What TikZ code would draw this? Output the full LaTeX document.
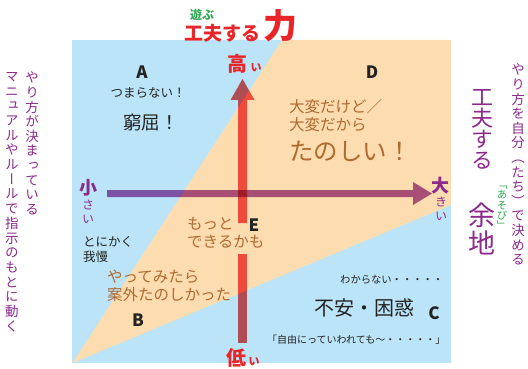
\documentclass[tikz,border=0pt]{standalone}
\usepackage{fontspec}
\newfontfamily\jp{Noto Sans CJK JP}
\newfontfamily\jpv[RawFeature=+vert]{Noto Sans CJK JP}
\definecolor{bgblue}{RGB}{187,228,248}
\definecolor{bgorange}{RGB}{253,221,176}
\definecolor{dark}{RGB}{35,35,35}
\definecolor{brown}{RGB}{175,106,50}
\definecolor{tred}{RGB}{232,38,42}
\definecolor{tpurple}{RGB}{140,42,140}
\definecolor{tgreen}{RGB}{50,170,85}
\definecolor{axred}{RGB}{240,87,87}
\definecolor{axpurple}{RGB}{170,92,170}
\newcommand\fs[1]{\fontsize{#1}{#1}\selectfont}
\ExplSyntaxOn
\NewDocumentCommand\vtxt{mm}{
  \vbox{
    \baselineskip=#1 \lineskiplimit=-\maxdimen
    \tl_map_inline:nn {#2} { \hbox_to_wd:nn {1em} { \hfil ##1 \hfil } }
  }
}
\ExplSyntaxOff
\tikzset{
  lbl/.style={inner sep=0pt, font=\jp},
  vt/.style={inner sep=0pt, anchor=north},
  letter/.style={inner sep=0pt, text=dark, font=\jp\bfseries\fs{17}},
}
\begin{document}
\begin{tikzpicture}[x=1pt,y=-1pt]
\useasboundingbox (0,0) rectangle (528,369);
% background regions
\fill[bgblue] (72,40) rectangle (451,363);
\fill[bgorange] (72.5,363) -- (282,40) -- (451,40) -- (451,205) -- cycle;

% axes
\coordinate (vtop) at (242.5,79);
\coordinate (hend) at (432,193.5);
\begin{scope}[blend mode=multiply]
  \fill[axred] (238,223) -- (238,100) -- (230.5,100) -- (vtop) -- (254.5,100) -- (247,100) -- (247,223) -- cycle;
  \fill[axred] (238,254) rectangle (247,343);
  \fill[axpurple] (107,190) -- (413,190) -- (413,182) -- (hend) -- (413,205) -- (413,197) -- (107,197) -- cycle;
\end{scope}

% title
\node[lbl,text=tgreen,font=\jp\bfseries\fs{12}] (asobu) at (202,15) {遊ぶ};
\node[lbl,text=tred,font=\jp\bfseries\fs{19},anchor=west] (kufuu) at (184,33) {工夫する};
\node[lbl,text=tred,font=\jp\bfseries\fs{34}] (chikara) at (280,26) {力};

% axis labels
\node[lbl,text=tred,font=\jp\bfseries\fs{20}] (taka) at (237,64) {高};
\node[lbl,text=tred,font=\jp\bfseries\fs{11}] (takai) at (256,68) {い};
\node[lbl,text=tred,font=\jp\bfseries\fs{20}] (hiku) at (236,358) {低};
\node[lbl,text=tred,font=\jp\bfseries\fs{11}] (hikui) at (254,362) {い};
\node[lbl,text=tpurple,font=\jp\bfseries\fs{18}] (sho) at (88,188) {小};
\node[vt,text=tpurple,font=\jpv\fs{12}] (shosai) at (88,200) {\vtxt{14pt}{さい}};
\node[lbl,text=tpurple,font=\jp\bfseries\fs{18}] (dai) at (440,186) {大};
\node[vt,text=tpurple,font=\jpv\fs{12}] (daikii) at (441,197) {\vtxt{14pt}{きい}};

% quadrant A
\node[letter] (A) at (142,72) {A};
\node[lbl,text=dark,font=\jp\fs{12.5}] (tsumaranai) at (148,93) {つまらない！};
\node[lbl,text=dark,font=\jp\fs{18.5}] (kyukutsu) at (151,122) {窮屈！};
% quadrant D
\node[letter] (D) at (372,72) {D};
\node[lbl,text=brown,font=\jp\fs{15.5},anchor=west] (taihen1) at (289,107) {大変だけど／};
\node[lbl,text=brown,font=\jp\fs{15.5},anchor=west] (taihen2) at (289,125) {大変だから};
\node[lbl,text=brown,font=\jp\fs{24.5},anchor=west] (tanoshii) at (289,151) {たのしい！};
% E
\node[lbl,text=brown,font=\jp\fs{15.5},anchor=west] (motto) at (187,224) {もっと};
\node[lbl,text=brown,font=\jp\fs{15.5},anchor=west] (dekiru) at (187,242) {できるかも};
\node[letter] (E) at (254,225) {E};
% B
\node[lbl,text=dark,font=\jp\fs{12.5},anchor=west] (tonikaku) at (83,242) {とにかく};
\node[lbl,text=dark,font=\jp\fs{12.5},anchor=west] (gaman) at (83,257) {我慢};
\node[lbl,text=brown,font=\jp\fs{15.5},anchor=west] (yatte) at (107,277) {やってみたら};
\node[lbl,text=brown,font=\jp\fs{15.5},anchor=west] (angai) at (107,295) {案外たのしかった};
\node[letter] (B) at (138,320) {B};
% C
\node[lbl,text=dark,font=\jp\fs{10.3},anchor=west] (wakaranai) at (340,280) {わからない・・・・・};
\node[lbl,text=dark,font=\jp\fs{20},anchor=west] (fuan) at (314,308) {不安・困惑};
\node[letter] (C) at (434,313) {C};
\node[lbl,text=dark,font=\jp\fs{10},anchor=west] (jiyuu) at (267,340) {「自由にっていわれても〜・・・・・」};

% left vertical text
\node[vt,text=tpurple,font=\jpv\fs{13.5}] (left1) at (32,72) {\vtxt{14.6pt}{やり方が決まっている}};
\node[vt,text=tpurple,font=\jpv\fs{13.5}] (left2) at (12,72) {\vtxt{14.7pt}{マニュアルやルールで指示のもとに動く}};

% right vertical text
\node[vt,text=tpurple,font=\jpv\fs{13.5}] (right1) at (518,64) {\vtxt{14.6pt}{やり方を自分（たち）で決める}};
\node[vt,text=tpurple,font=\jpv\fs{22}] (right2) at (482,89) {\vtxt{21pt}{工夫する}};
\node[vt,text=tpurple,font=\jpv\fs{27}] (right3) at (482,203) {\vtxt{28pt}{余地}};
\node[vt,text=tgreen,font=\jpv\fs{10.5}] (asobi) at (502,186) {\vtxt{10.2pt}{「あそび」}};
\end{tikzpicture}
\end{document}
